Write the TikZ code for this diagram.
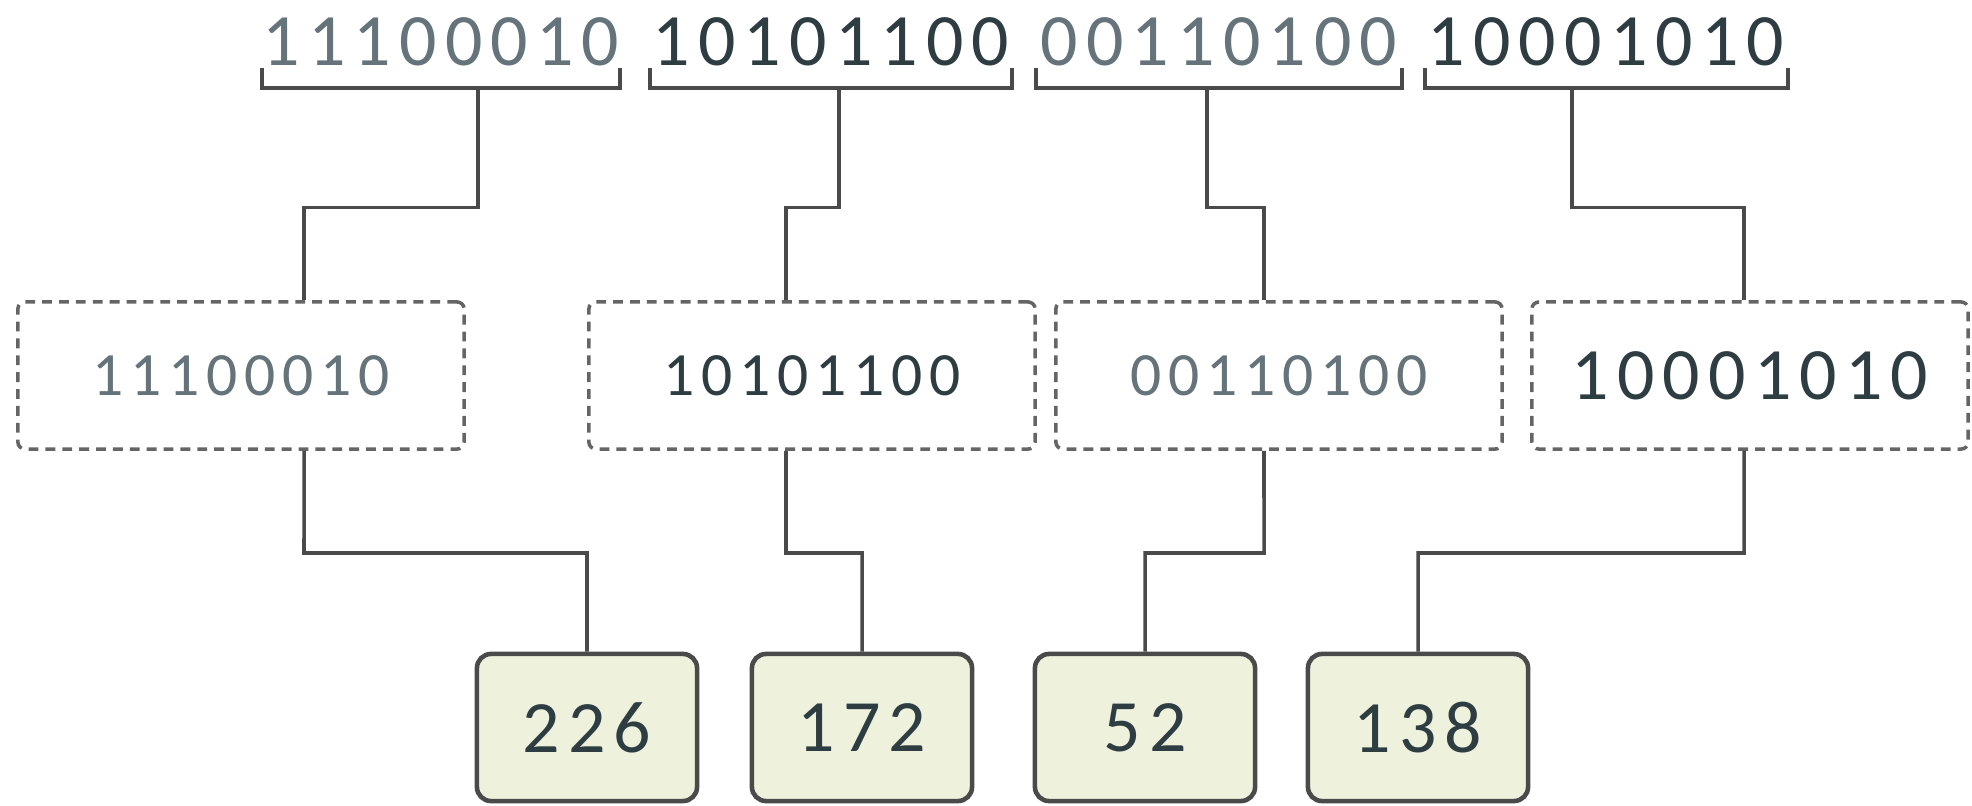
\documentclass[tikz,border=0pt]{standalone}
\usepackage{fontspec}
\setmainfont{Carlito}[LetterSpace=11]
\definecolor{bitgrey}{HTML}{65737A}
\definecolor{bitdark}{HTML}{2E3D42}
\definecolor{wiregrey}{HTML}{4A4A4A}
\definecolor{bytefill}{HTML}{EEF2DC}
\begin{document}
\begin{tikzpicture}[x=0.01cm,y=-0.01cm,
  wire/.style={draw=wiregrey,line width=1pt},
  bits/.style={inner sep=0pt,font=\fontsize{21}{25}\selectfont},
  small/.style={inner sep=0pt,font=\fontsize{17.5}{21}\selectfont},
  slot/.style={draw=wiregrey!85,dash pattern=on 2.8pt off 2pt,line width=1pt,
    rounded corners=2pt,minimum width=4.46cm,minimum height=1.47cm},
  byte/.style={draw=wiregrey,fill=bytefill,line width=1.3pt,rounded corners=4pt,
    minimum width=2.2cm,minimum height=1.47cm,text=bitdark,
    font=\fontsize{21}{25}\selectfont}]
\useasboundingbox (0,0) rectangle (1972,806);

% the four bytes of the word
\node[bits,text=bitgrey] (t1) at (441,41.5) {11100010};
\node[bits,text=bitdark] (t2) at (831,41.5) {10101100};
\node[bits,text=bitgrey] (t3) at (1219,41.5) {00110100};
\node[bits,text=bitdark] (t4) at (1606,41.5) {10001010};

\draw[wire] (262,68) -- (262,88) -- (620,88) -- (620,68);
\draw[wire] (650,68) -- (650,88) -- (1012,88) -- (1012,68);
\draw[wire] (1036,68) -- (1036,88) -- (1402,88) -- (1402,68);
\draw[wire] (1425,68) -- (1425,88) -- (1788,88) -- (1788,68);

\coordinate (b1) at (478,88);
\coordinate (b2) at (839,88);
\coordinate (b3) at (1207,88);
\coordinate (b4) at (1572,88);

% separated bytes
\node[slot,small,text=bitgrey] (d1) at (241,375.5) {11100010};
\node[slot,small,text=bitdark] (d2) at (812,375.5) {10101100};
\node[slot,small,text=bitgrey] (d3) at (1279,375.5) {00110100};
\node[slot,bits,text=bitdark,minimum width=4.36cm] (d4) at (1750,375.5) {10001010};

% decimal values
\node[byte] (v1) at (587,727.5) {226};
\node[byte] (v2) at (862,727.5) {172};
\node[byte] (v3) at (1145,727.5) {52};
\node[byte] (v4) at (1418,727.5) {138};

\draw[wire] (b1) -- ++(0,119.5) -| ([xshift=0.63cm]d1.north);
\draw[wire] (b2) -- ++(0,119.5) -| ([xshift=-0.26cm]d2.north);
\draw[wire] (b3) -- ++(0,119.5) -| ([xshift=-0.15cm]d3.north);
\draw[wire] (b4) -- ++(0,119.5) -| ([xshift=-0.06cm]d4.north);

\draw[wire] ([xshift=0.63cm]d1.south) -- (304,553) -| (v1.north);
\draw[wire] ([xshift=-0.26cm]d2.south) -- (786,553) -| (v2.north);
\draw[wire] ([xshift=-0.15cm]d3.south) -- (1264,553) -| (v3.north);
\draw[wire] ([xshift=-0.06cm]d4.south) -- (1744,553) -| (v4.north);
\end{tikzpicture}
\end{document}
